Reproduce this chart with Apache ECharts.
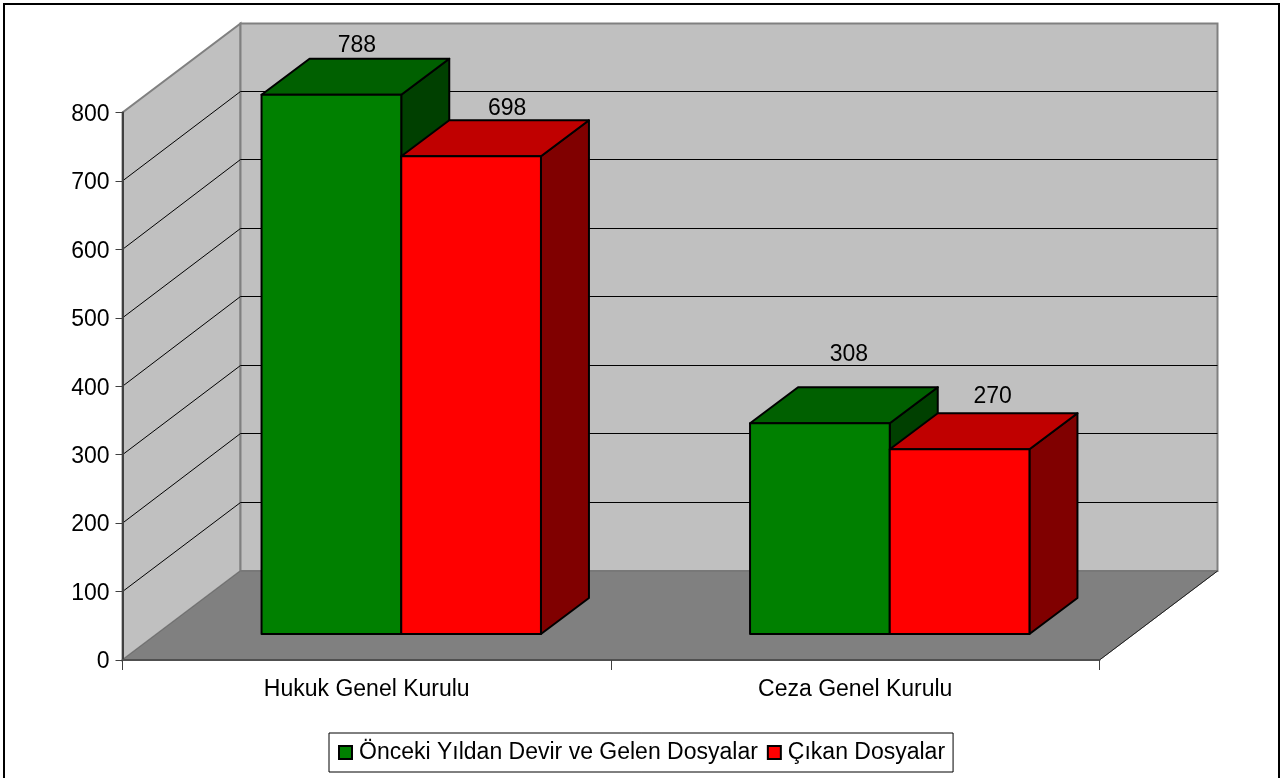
<!DOCTYPE html>
<html><head><meta charset="utf-8">
<style>html,body{margin:0;padding:0;background:#fff;overflow:hidden}#c{width:1282px;height:778px}</style>
<script src="https://cdn.jsdelivr.net/npm/echarts@6/dist/echarts.min.js"></script>
</head><body><div id="c"></div>
<script>
const categories = ['Hukuk Genel Kurulu', 'Ceza Genel Kurulu'];
const seriesNames = ['Önceki Yıldan Devir ve Gelen Dosyalar', 'Çıkan Dosyalar'];
const devirValues = [788, 308];
const cikanValues = [698, 270];
const yTicks = [0, 100, 200, 300, 400, 500, 600, 700, 800];
const FONT = '"Liberation Sans", Arial, sans-serif';
const FS = 23;
const DX = 118, DY = 89;          // wall depth
const BDX = 48, BDY = 36;         // bar depth
const OX = 34.5, OY = 26;         // bar offset from front floor edge
const BAR = 139.7;

function wallItem(params, api) {
  const r = params.coordSys, v = api.value(0);
  const x0 = r.x, x1 = r.x + r.width, y0 = r.y + r.height;
  const y = api.coord([0, v])[1];
  const yb = Math.round(y) - 89.5;
  const ch = [];
  if (params.dataIndex === 0) {
    const top = r.y;
    ch.push({type:'polygon', shape:{points:[[x0,y0],[x0+DX,y0-DY],[x0+DX,top-DY],[x0,top]]}, style:{fill:'#c0c0c0', stroke:'#808080', lineWidth:2}});
    ch.push({type:'polygon', shape:{points:[[x0+DX,y0-DY],[x1+DX,y0-DY],[x1+DX,top-DY],[x0+DX,top-DY]]}, style:{fill:'#c0c0c0', stroke:'#808080', lineWidth:2}});
    ch.push({type:'polygon', shape:{points:[[x0,y0],[x1,y0],[x1+DX,y0-DY],[x0+DX,y0-DY]]}, style:{fill:'#808080', stroke:'#707070', lineWidth:1}});
    ch.push({type:'line', shape:{x1:x1,y1:y0,x2:x1+DX,y2:y0-DY}, style:{stroke:'#202020', lineWidth:1}});
  } else if (v < 800) {
    ch.push({type:'line', shape:{x1:x0,y1:y,x2:x0+DX,y2:yb}, style:{stroke:'#000', lineWidth:1}});
    ch.push({type:'line', shape:{x1:x0+DX,y1:yb,x2:x1+DX,y2:yb}, style:{stroke:'#000', lineWidth:1}});
  }
  return {type:'group', children:ch};
}

function barItem(front, top, side, shift, nudge) {
  return function (params, api) {
    const c = api.coord([api.value(0), api.value(1)]);
    const base = api.coord([api.value(0), 0]);
    const xl = c[0] + OX + shift * BAR, xr = xl + BAR;
    const yt = c[1] - OY, yb = base[1] - OY;
    const s = {stroke:'#000', lineWidth:2, lineJoin:'round'};
    const n = nudge[params.dataIndex];
    return {type:'group', children:[
      {type:'polygon', shape:{points:[[xr,yt],[xr+BDX,yt-BDY],[xr+BDX,yb-BDY],[xr,yb]]}, style:Object.assign({fill:side}, s)},
      {type:'polygon', shape:{points:[[xl,yt],[xl+BDX,yt-BDY],[xr+BDX,yt-BDY],[xr,yt]]}, style:Object.assign({fill:top}, s)},
      {type:'rect', shape:{x:xl,y:yt,width:BAR,height:yb-yt}, style:Object.assign({fill:front}, s)},
      {type:'text', x:(xl+xr)/2+BDX/2+n[0], y:yt-BDY-n[1], style:{text:String(api.value(1)), fill:'#000', font:FS+'px '+FONT, align:'center', verticalAlign:'middle'}}
    ]};
  };
}

const chart = echarts.init(document.getElementById('c'), null, {renderer:'canvas'});
chart.setOption({
  animation:false,
  backgroundColor:'#fff',
  grid:{left:122.5, top:112.5, width:977, height:547.5, containLabel:false},
  xAxis:{type:'category', data:categories, z:10,
    axisLine:{lineStyle:{color:'#505050', width:2}},
    axisTick:{show:true, length:10, lineStyle:{color:'#404040', width:1}},
    axisLabel:{color:'#000', fontFamily:FONT, fontSize:FS, margin:18}},
  yAxis:{type:'value', min:0, max:800, interval:100, z:10, splitLine:{show:false},
    axisLine:{show:true, lineStyle:{color:'#404040', width:2}},
    axisTick:{show:true, length:7, lineStyle:{color:'#404040', width:1}},
    axisLabel:{color:'#000', fontFamily:FONT, fontSize:FS, margin:13, formatter:'{a|{value}}',
      rich:{a:{color:'#000', fontFamily:FONT, fontSize:FS, padding:[4,0,0,0]}}}},
  legend:{data:seriesNames, left:329, top:733, padding:[8,8,8,9], itemGap:9, itemWidth:13, itemHeight:13, icon:'rect',
    borderColor:'#000', borderWidth:1, backgroundColor:'#fff',
    textStyle:{color:'#000', fontFamily:FONT, fontSize:FS, padding:[0,0,0,2]}},
  graphic:[{type:'rect', z:-10, silent:true, shape:{x:4,y:4,width:1275,height:800}, style:{fill:'none', stroke:'#000', lineWidth:2}}],
  series:[
    {type:'custom', name:'walls', coordinateSystem:'cartesian2d', renderItem:wallItem, data:yTicks.map(v=>[v]), encode:{y:0}, z:1, silent:true},
    {type:'custom', name:seriesNames[0], coordinateSystem:'cartesian2d', renderItem:barItem('#008000','#006000','#004000',-1,[[1.5,13],[5,33]]),
      data:devirValues.map((v,i)=>[i,v]), encode:{x:0,y:1}, itemStyle:{color:'#008000', borderColor:'#000', borderWidth:1.5}, z:2},
    {type:'custom', name:seriesNames[1], coordinateSystem:'cartesian2d', renderItem:barItem('#ff0000','#c00000','#800000',0,[[12,12],[9,17]]),
      data:cikanValues.map((v,i)=>[i,v]), encode:{x:0,y:1}, itemStyle:{color:'#ff0000', borderColor:'#000', borderWidth:1.5}, z:3}
  ]
});
</script></body></html>
